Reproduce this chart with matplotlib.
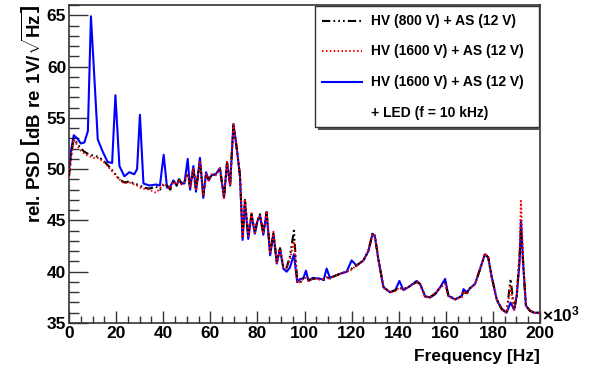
import numpy as np
import matplotlib
matplotlib.use("Agg")
import matplotlib.pyplot as plt
from matplotlib.patches import Rectangle
from matplotlib.lines import Line2D
from matplotlib.ticker import MultipleLocator

plt.rcParams['font.family'] = ['Liberation Sans', 'DejaVu Sans']
plt.rcParams['font.weight'] = 'bold'
plt.rcParams['mathtext.fontset'] = 'custom'
plt.rcParams['mathtext.rm'] = 'Liberation Sans:bold'
plt.rcParams['mathtext.bf'] = 'Liberation Sans:bold'

# frequency grid in kHz (axis shows x10^3 Hz)
freq = [0, 1, 2, 3.5, 5, 6.5, 8, 9.3, 10.5, 12.2, 14.3, 16.4, 18.3, 19.7, 21.4,
        23.5, 25.6, 27.7, 28.9, 30.1, 31.6, 34.1, 36.9, 38.6, 40.2, 41.6, 43,
        44.3, 45.7, 46.7, 47.8, 49.0, 50.4, 51.4, 52.8, 53.9, 55.6, 57.0, 58.2,
        59.3, 60.5, 62.3, 64.1, 65.8, 67.1, 68.4, 69.8, 71.1, 72.6, 73.7, 74.7,
        76.1, 77.5, 78.9, 80.0, 81.1, 82.5, 83.9, 85.4, 86.8, 88.2, 89.6, 91.0,
        92.4, 93.8, 95.5, 96.9, 98.1, 99.4, 100.6, 101.7, 103.5, 105.2, 106.8,
        108.1, 109.4, 110.8, 113, 115.1, 117.9, 120.0, 122.1, 125.0, 127.1,
        128.9, 129.9, 131.3, 133.5, 136.3, 138.5, 140.3, 142.0, 144.8, 147.6,
        149.1, 151.2, 153.3, 155.5, 157.5, 159.7, 161.1, 163.9, 166.8, 167.5,
        168.9, 170.3, 172.4, 174.5, 176.6, 178.0, 179.4, 181.6, 183.7, 185.8,
        187.5, 189.0, 190.1, 191.3, 191.9, 192.9, 194.0, 195.7, 197.5, 199.3, 200]

psd_hv800 = [49.3, 51.5, 53.0, 52.5, 52.0, 51.7, 51.5, 51.4, 51.3, 51.2, 50.9,
             50.4, 49.9, 49.5, 49.0, 48.7, 48.8, 48.6, 48.5, 48.4, 48.2, 48.1,
             48.3, 48.0, 48.5, 48.4, 48.0, 48.9, 48.4, 49.0, 48.6, 48.7, 49.6,
             48.3, 50.0, 48.0, 50.7, 47.5, 49.5, 49.0, 49.4, 49.5, 50.0, 47.3,
             50.6, 48.5, 54.3, 52.2, 49.4, 43.4, 47.0, 43.6, 45.6, 43.9, 45.0,
             45.6, 43.8, 45.8, 41.9, 43.8, 41.0, 42.3, 40.5, 40.4, 41.5, 44.0,
             39.0, 38.9, 39.4, 39.3, 39.2, 39.3, 39.35, 39.3, 39.2, 39.4, 39.4,
             39.6, 39.8, 40.0, 40.3, 40.6, 41.1, 42.0, 43.8, 43.5, 41.3, 38.5,
             38.0, 38.2, 38.4, 38.3, 38.6, 39.0, 38.8, 37.6, 37.5, 37.9, 38.45,
             38.9, 37.7, 37.3, 37.6, 38.0, 37.9, 38.4, 38.8, 40.2, 41.7, 41.4,
             39.6, 37.3, 36.4, 36.0, 39.3, 36.3, 37.6, 41.5, 44.0, 40.6, 36.7,
             36.2, 36.0, 36.0, 35.9]

psd_hv1600 = [49.2, 51.3, 52.9, 52.3, 51.8, 51.5, 51.3, 51.2, 51.1, 51.1, 50.8,
              50.3, 49.8, 49.4, 49.0, 48.6, 48.7, 48.5, 48.4, 48.2, 48.1, 48.0,
              47.7, 48.1, 48.6, 48.3, 48.1, 48.8, 48.5, 48.9, 48.5, 48.8, 49.5,
              48.2, 50.1, 47.9, 50.8, 47.4, 49.6, 48.9, 49.5, 49.4, 50.1, 47.2,
              50.7, 48.4, 54.4, 52.3, 49.3, 43.3, 47.1, 43.5, 45.7, 43.8, 45.1,
              45.5, 43.7, 45.9, 41.8, 43.9, 40.9, 42.2, 40.4, 40.3, 41.2, 43.0,
              38.9, 39.0, 39.3, 39.4, 39.1, 39.3, 39.3, 39.2, 39.3, 39.5, 39.3,
              39.6, 39.8, 40.0, 40.2, 40.6, 41.1, 42.1, 43.7, 43.4, 41.2, 38.4,
              38.0, 38.1, 38.5, 38.2, 38.6, 39.0, 38.7, 37.5, 37.5, 37.9, 38.4,
              38.8, 37.6, 37.3, 37.5, 38.1, 37.8, 38.4, 38.8, 40.3, 41.8, 41.4,
              39.5, 37.3, 36.3, 36.0, 38.5, 36.3, 37.7, 41.8, 46.9, 40.8, 36.7,
              36.2, 36.0, 36.0, 35.9]

psd_hv1600_led = [49.8, 52.0, 53.3, 53.0, 52.5, 52.6, 53.7, 64.9, 60.0, 52.9,
                  51.7, 50.7, 50.6, 57.2, 50.3, 49.3, 49.7, 49.5, 50.0, 55.3,
                  48.6, 48.4, 48.5, 48.4, 51.4, 48.2, 48.3, 48.9, 48.4, 49.0,
                  48.6, 48.6, 51.0, 48.0, 50.3, 47.8, 51.1, 47.2, 49.7, 48.9,
                  49.4, 49.5, 50.1, 47.2, 50.7, 48.4, 54.4, 52.3, 49.3, 43.1,
                  46.8, 43.2, 45.5, 43.7, 44.9, 45.5, 43.6, 45.8, 41.6, 43.7,
                  40.8, 42.2, 40.3, 40.0, 40.4, 41.7, 39.0, 39.3, 39.3, 40.1,
                  39.1, 39.4, 39.35, 39.3, 39.2, 40.3, 39.4, 39.6, 39.8, 40.0,
                  41.1, 40.6, 41.1, 42.0, 43.7, 43.4, 41.3, 38.5, 38.0, 38.2,
                  39.1, 38.2, 38.6, 39.1, 38.8, 37.6, 37.5, 37.8, 38.45, 39.3,
                  37.65, 37.3, 37.65, 38.3, 38.0, 38.4, 38.8, 40.25, 41.7, 41.4,
                  39.6, 37.3, 36.35, 36.0, 37.0, 36.3, 37.65, 40.9, 45.0, 40.6,
                  36.7, 36.2, 36.0, 36.0, 35.9]

labels = ["HV (800 V) + AS (12 V)", "HV (1600 V) + AS (12 V)",
          "HV (1600 V) + AS (12 V)", "+ LED (f = 10 kHz)"]

fig = plt.figure(figsize=(5.92, 3.72), dpi=100)
ax = fig.add_axes([0.1166, 0.1317, 0.7956, 0.8549])

dashdot = (0, (4, 1.5, 0.8, 1.5, 0.8, 1.5, 0.8, 1.5))
ax.plot(freq, psd_hv1600_led, color='#0000ff', lw=1.5, zorder=2)
ax.plot(freq, psd_hv800, color='black', lw=1.5, linestyle=dashdot, zorder=3)
ax.plot(freq, psd_hv1600, color='#ff0000', lw=1.4, linestyle=(0, (0.8, 1.2)), zorder=4)

ax.set_xlim(0, 200)
ax.set_ylim(35, 66.0)
ax.xaxis.set_major_locator(MultipleLocator(20))
ax.xaxis.set_minor_locator(MultipleLocator(5))
ax.yaxis.set_major_locator(MultipleLocator(5))
ax.yaxis.set_minor_locator(MultipleLocator(1))
ax.tick_params(which='both', direction='in', top=False, right=False,
               labelsize=12.5, width=1, color='#333333')
ax.tick_params(axis='x', which='major', length=9, pad=2)
ax.tick_params(axis='x', which='minor', length=5)
ax.tick_params(axis='y', which='major', length=14, pad=2)
ax.tick_params(axis='y', which='minor', length=7)
for lab in ax.get_xticklabels() + ax.get_yticklabels():
    lab.set_fontweight('bold')
for sp in ax.spines.values():
    sp.set_linewidth(1.2)
    sp.set_color('#333333')

ax.set_xlabel("Frequency [Hz]", fontsize=12.5, fontweight='bold', loc='right', labelpad=6)
ax.set_ylabel(r"rel. PSD $\left[\mathrm{dB\ re\ 1V/\sqrt{Hz}}\right]$",
              fontsize=13.5, fontweight='bold', loc='top', labelpad=1)
ax.text(1.005, 0.028, r"$\times\mathrm{10^{3}}$", transform=ax.transAxes,
        fontsize=12.5, ha='left', va='center')

# legend box drawn by hand (ROOT style with shadow)
lx0, lx1 = 0.522, 0.997
ly0, ly1 = 0.617, 0.997
shadow = Rectangle((lx0 + 0.006, ly0 - 0.01), lx1 - lx0, ly1 - ly0,
                   transform=ax.transAxes, facecolor='#555555', edgecolor='none', zorder=9)
box = Rectangle((lx0, ly0), lx1 - lx0, ly1 - ly0, transform=ax.transAxes,
                facecolor='white', edgecolor='#333333', lw=1.0, zorder=10)
ax.add_patch(shadow)
ax.add_patch(box)
rows = [0.95, 0.855, 0.757, 0.66]
styles = [dict(color='black', linestyle=dashdot, lw=1.5),
          dict(color='#ff0000', linestyle=(0, (0.8, 1.2)), lw=1.4),
          dict(color='#0000ff', linestyle='-', lw=1.5)]
for yy, st in zip(rows[:3], styles):
    ax.add_line(Line2D([0.538, 0.622], [yy, yy], transform=ax.transAxes, zorder=11, **st))
for yy, txt in zip(rows, labels):
    ax.text(0.641, yy, txt, transform=ax.transAxes, fontsize=10, fontweight='bold',
            ha='left', va='center', zorder=11)

fig.savefig("out.png", dpi=100)
